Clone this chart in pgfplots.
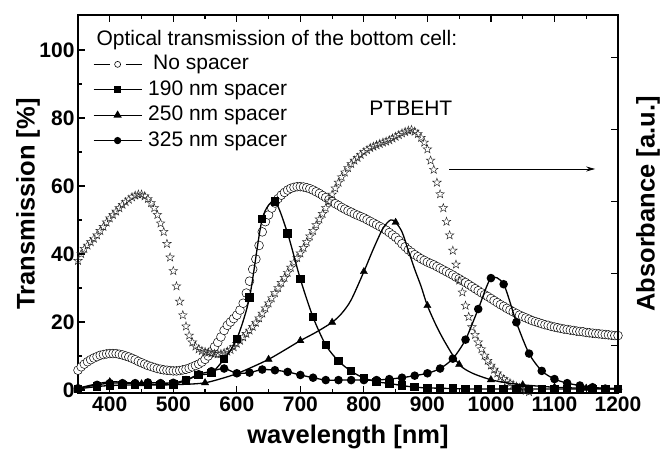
\documentclass[border=0pt]{standalone}
\usepackage{fontspec}
\setmainfont{Liberation Sans}
\usepackage{pgfplots}
\pgfplotsset{compat=1.18}
\usetikzlibrary{arrows.meta}

% open five-pointed star
\pgfdeclareplotmark{ostar}{%
  \pgfpathmoveto{\pgfpointpolar{90}{\pgfplotmarksize}}%
  \pgfpathlineto{\pgfpointpolar{126}{0.4\pgfplotmarksize}}%
  \pgfpathlineto{\pgfpointpolar{162}{\pgfplotmarksize}}%
  \pgfpathlineto{\pgfpointpolar{198}{0.4\pgfplotmarksize}}%
  \pgfpathlineto{\pgfpointpolar{234}{\pgfplotmarksize}}%
  \pgfpathlineto{\pgfpointpolar{270}{0.4\pgfplotmarksize}}%
  \pgfpathlineto{\pgfpointpolar{306}{\pgfplotmarksize}}%
  \pgfpathlineto{\pgfpointpolar{342}{0.4\pgfplotmarksize}}%
  \pgfpathlineto{\pgfpointpolar{18}{\pgfplotmarksize}}%
  \pgfpathlineto{\pgfpointpolar{54}{0.4\pgfplotmarksize}}%
  \pgfpathclose
  \pgfusepathqstroke
}

\begin{document}
\begin{tikzpicture}
\useasboundingbox (-78pt,-60pt) rectangle (587pt,393pt);
\begin{axis}[
  at={(0pt,0pt)}, anchor=south west,
  scale only axis, width=540pt, height=378pt,
  xmin=350, xmax=1200, ymin=-0.9, ymax=110.3,
  xtick={400,500,...,1200}, minor xtick={350,450,...,1150},
  ytick={0,20,...,100}, minor ytick={10,30,...,90},
  ytick pos=left,
  tick align=inside,
  major tick length=7pt, minor tick length=4pt,
  axis line style={line width=1.2pt},
  every tick/.style={black, line width=1.2pt},
  /pgf/number format/assume math mode=true,
  /pgf/number format/set thousands separator={},
  tick label style={font=\fontsize{21}{22}\selectfont\bfseries},
  xlabel={wavelength [nm]}, ylabel={Transmission [\%]},
  label style={font=\fontsize{25.5}{27}\selectfont\bfseries},
  xlabel style={at={(axis description cs:0.5,-0.116)}, anchor=center},
  ylabel style={at={(axis description cs:-0.0926,0.5)}, anchor=center},
  clip mode=individual,
  legend cell align=left,
  legend style={at={(axis description cs:0.0278,0.8945)}, anchor=north west,
    draw=none, fill=none, inner sep=0pt, outer sep=0pt,
    font=\fontsize{21}{23}\selectfont, row sep=1.4pt, column sep=6pt,
    nodes={inner sep=0pt, text height=15pt, text depth=9pt}},
  legend image code/.code={\draw[mark repeat=2, mark phase=2, #1] plot coordinates {(0pt,2.5pt) (24pt,2.5pt) (48pt,2.5pt)};},
]

% No spacer (open circles)
\addplot[forget plot, only marks, mark=*, mark size=4.4pt, mark options={fill=white, draw=black, line width=0.5pt}] table {
x y
350 5.8
355 6.8
360 7.6
365 8.3
370 8.9
375 9.4
380 9.8
385 10.2
390 10.4
395 10.6
400 10.7
405 10.7
410 10.7
415 10.5
420 10.3
425 10.0
430 9.7
435 9.3
440 8.9
445 8.4
450 8.0
455 7.6
460 7.2
465 6.9
470 6.6
475 6.3
480 6.1
485 5.9
490 5.8
495 5.7
500 5.6
505 5.6
510 5.7
515 5.9
520 6.1
525 6.4
530 6.8
535 7.2
540 7.6
545 8.2
550 9.0
555 10.0
560 11.3
565 12.7
570 14.0
575 15.6
580 17.5
585 19.0
590 20.0
595 21.0
600 22.0
605 23.5
610 25.5
615 28.5
620 32.0
625 35.5
630 38.5
635 42.5
640 46.5
645 49.5
650 51.5
655 53.5
660 55.0
665 56.3
670 57.3
675 58.1
680 58.8
685 59.3
690 59.6
695 59.8
700 59.8
705 59.7
710 59.5
715 59.2
720 58.8
725 58.3
730 57.8
735 57.2
740 56.6
745 56.0
750 55.4
755 54.8
760 54.3
765 53.7
770 53.2
775 52.7
780 52.3
785 51.8
790 51.4
795 51.0
800 50.6
805 50.1
810 49.6
815 49.1
820 48.6
825 48.1
830 47.6
835 47.0
840 46.3
845 45.6
850 44.9
855 44.0
860 43.0
865 42.1
870 41.2
875 40.5
880 39.8
885 39.2
890 38.6
895 38.1
900 37.6
905 37.2
910 36.8
915 36.3
920 35.8
925 35.3
930 34.8
935 34.3
940 33.8
945 33.2
950 32.7
955 32.1
960 31.6
965 31.0
970 30.4
975 29.8
980 29.2
985 28.6
990 28.0
995 27.5
1000 26.9
1005 26.3
1010 25.7
1015 25.1
1020 24.6
1025 24.0
1030 23.5
1035 23.0
1040 22.5
1045 22.0
1050 21.6
1055 21.2
1060 20.8
1065 20.4
1070 20.1
1075 19.8
1080 19.5
1085 19.2
1090 19.0
1095 18.7
1100 18.5
1105 18.3
1110 18.1
1115 17.9
1120 17.8
1125 17.6
1130 17.5
1135 17.3
1140 17.2
1145 17.1
1150 16.9
1155 16.8
1160 16.7
1165 16.6
1170 16.5
1175 16.4
1180 16.3
1185 16.2
1190 16.1
1195 16.0
1200 16.0
};

% PTBEHT absorbance (open stars)
\addplot[forget plot, only marks, mark=ostar, mark size=4.5pt, mark options={draw=black!85, line width=0.45pt}] table {
x y
350 38.0
355 40.0
360 41.5
365 42.5
370 43.5
375 44.5
380 45.5
385 46.8
390 48.0
395 49.3
400 50.5
405 51.5
410 52.5
415 53.5
420 54.5
425 55.3
430 56.0
435 56.7
440 57.2
445 57.5
450 57.5
455 57.0
460 56.2
465 55.0
470 53.5
475 51.5
480 49.0
485 46.5
490 43.0
495 39.0
500 35.0
505 30.5
510 26.0
515 22.0
520 18.7
525 16.0
530 14.0
535 12.8
540 12.0
545 11.5
550 11.2
555 11.0
560 10.8
565 10.6
570 10.5
575 10.6
580 10.9
585 11.3
590 11.8
595 12.6
600 13.6
605 14.5
610 15.5
615 16.5
620 17.5
625 18.6
630 19.8
635 21.1
640 22.5
645 24.0
650 25.5
655 27.0
660 28.5
665 30.0
670 31.5
675 33.0
680 34.5
685 36.0
690 37.5
695 38.8
700 40.2
705 41.8
710 43.5
715 45.2
720 46.8
725 48.5
730 50.2
735 51.8
740 53.5
745 55.5
750 57.5
755 59.3
760 61.0
765 62.6
770 64.0
775 65.3
780 66.5
785 67.5
790 68.3
795 69.2
800 70.0
805 70.6
810 71.2
815 71.6
820 72.0
825 72.4
830 72.8
835 73.1
840 73.5
845 74.0
850 74.5
855 75.0
860 75.5
865 75.9
870 76.3
875 76.5
880 76.0
885 75.3
890 74.2
895 72.8
900 70.8
905 67.5
910 64.8
915 61.0
920 57.6
925 53.5
930 49.5
935 45.5
940 41.0
945 36.9
950 32.2
955 28.7
960 24.8
965 21.5
970 18.5
975 16.2
980 14.0
985 12.0
990 10.1
995 8.6
1000 7.2
1005 6.0
1010 4.9
1015 3.9
1020 3.2
1025 2.5
1030 2.0
1035 1.5
1040 1.0
1045 0.6
1050 0.2
1055 -0.2
1060 -0.6
};

% 190 nm spacer
\addplot[forget plot, black, line width=1.3pt, smooth, tension=0.45, mark=square*, mark size=3.6pt] table {
x y
350 0.3
380 1.0
400 1.3
420 1.4
440 1.5
460 1.5
480 1.5
500 1.6
520 2.8
540 4.4
560 5.0
580 9.1
600 15.0
620 27.2
640 50.3
660 55.4
680 46.0
700 32.6
720 21.4
740 13.2
760 8.5
780 5.5
800 3.5
820 2.4
840 1.9
860 1.3
880 0.8
900 0.6
920 0.5
940 0.4
960 0.3
980 0.3
1000 0.3
1020 0.3
1040 0.3
1060 0.3
1080 0.3
1100 0.3
1120 0.3
1140 0.3
1160 0.3
1180 0.3
1200 0.3
};

% 250 nm spacer: line
\addplot[forget plot, black, line width=1.3pt, smooth, tension=0.5] table {
x y
350 0.5
375 1.6
400 2.4
425 2.2
450 1.8
475 1.6
500 1.6
525 1.7
550 2.1
575 3.3
600 4.8
625 6.8
650 9.0
675 11.7
700 14.5
725 17.0
750 19.9
765 22.5
780 26.5
800 34.8
815 41.5
830 47.5
842 50.0
850 49.3
860 46.5
870 41.0
880 35.5
890 30.5
900 24.8
915 18.5
930 13.3
950 7.5
970 5.0
1000 3.0
1025 2.1
1050 1.5
1100 0.8
1150 0.5
1200 0.5
};
% 250 nm spacer: markers
\addplot[forget plot, only marks, mark=triangle*, mark size=4.2pt, black] table {
x y
350 0.5
400 2.4
450 1.8
500 1.6
550 2.1
600 4.8
650 9.0
700 14.5
750 19.9
800 34.8
850 49.3
900 24.8
950 7.5
1000 3.0
1050 1.5
1100 0.8
1150 0.5
1200 0.5
};

% 325 nm spacer
\addplot[forget plot, black, line width=1.3pt, smooth, tension=0.45, mark=*, mark size=3.6pt] table {
x y
350 0.5
380 1.5
400 2.0
420 2.0
440 2.0
460 2.2
480 2.0
500 2.1
520 2.9
540 4.6
560 5.5
580 6.3
600 4.9
620 5.1
640 6.0
660 5.8
680 5.3
700 4.4
720 3.6
740 2.9
760 2.9
780 2.9
800 2.9
820 2.9
840 3.2
860 3.6
880 4.2
900 4.9
920 6.3
940 9.2
960 14.8
980 23.8
1000 32.9
1020 31.1
1040 19.9
1060 10.7
1080 5.6
1100 3.2
1120 2.0
1140 1.3
1160 0.8
1180 0.4
1200 0.2
};

\addlegendimage{legend image code/.code={\draw[black, line width=1.2pt] (0pt,2.5pt)--(16pt,2.5pt) (32pt,2.5pt)--(48pt,2.5pt); \draw[black, line width=0.6pt, fill=white] (24pt,2.5pt) circle (3pt);}}
\addlegendentry{\hspace{5pt}No spacer}
\addlegendimage{black, line width=1.2pt, mark=square*, mark size=3pt}
\addlegendentry{190 nm spacer}
\addlegendimage{black, line width=1.2pt, mark=triangle*, mark size=3.6pt}
\addlegendentry{250 nm spacer}
\addlegendimage{black, line width=1.2pt, mark=*, mark size=3pt}
\addlegendentry{325 nm spacer}

\node[anchor=west, font=\fontsize{21}{23}\selectfont] at (axis description cs:0.0278,0.934) {Optical transmission of the bottom cell:};
\node[font=\fontsize{21}{23}\selectfont] at (axis cs:874,82.9) {PTBEHT};
\draw[line width=0.8pt, -{Stealth[length=9pt,width=5pt]}] (axis cs:934,65) -- (axis cs:1164,65);
\end{axis}

\begin{axis}[
  at={(0pt,0pt)}, anchor=south west,
  scale only axis, width=540pt, height=378pt,
  xmin=350, xmax=1200, ymin=-0.9, ymax=110.3,
  axis x line=none, axis y line*=right,
  ytick={13,34.2,55.4,76.6,97.8}, yticklabels={},
  tick align=inside, major tick length=7pt,
  axis line style={line width=1.2pt, -},
  every tick/.style={black, line width=1.2pt},
  ylabel={Absorbance [a.u.]},
  label style={font=\fontsize{25.5}{27}\selectfont\bfseries},
  ylabel style={at={(axis description cs:1.0556,0.5)}, anchor=center},
]
\end{axis}
\end{tikzpicture}
\end{document}
